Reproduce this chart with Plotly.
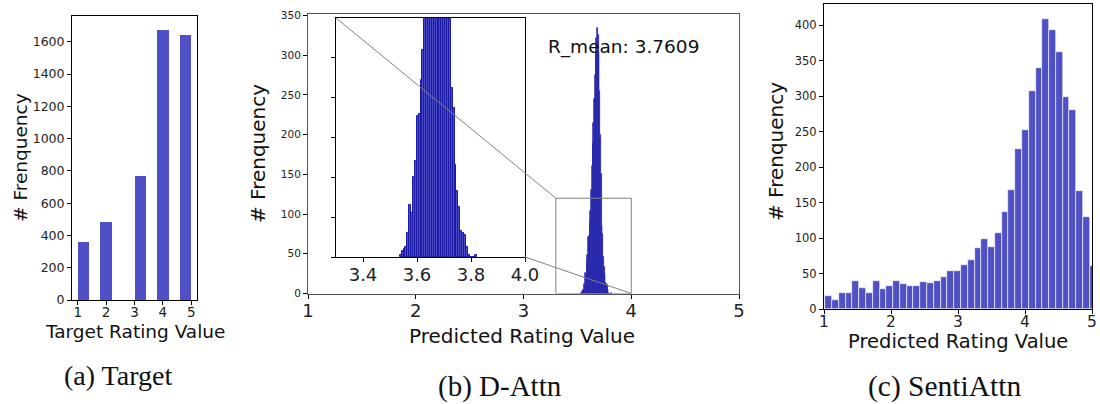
import numpy as np
import plotly.graph_objects as go

# ---------------- data ----------------
# (a) Target: histogram of true ratings (10 bins over [1,5])
target_bin_centers = [1.2, 2.0, 3.2, 4.0, 4.8]
target_counts = [360, 484, 769, 1674, 1643]

# (b) D-Attn: predicted ratings histogram (narrow bins)
dattn_bin_left = 3.536
dattn_bin_width = 0.007
dattn_counts = [1, 3, 4, 5, 12, 26, 22, 40, 48, 71, 72, 89, 104, 130, 160, 190,
                215, 245, 275, 305, 322, 335, 325, 303, 255, 200, 150, 85, 75, 46,
                33, 25, 13, 12, 11, 5, 1, 0, 0, 0, 1]
dattn_mean_label = "R_mean: 3.7609"

# (c) SentiAttn: predicted ratings histogram (40 bins)
senti_bin_left = 1.02
senti_bin_width = 0.1012
senti_counts = [18, 13, 23, 22, 39, 29, 23, 40, 28, 32, 39, 35, 32, 33, 38, 36,
                39, 45, 53, 53, 62, 69, 86, 99, 88, 107, 137, 168, 225, 253, 308,
                340, 409, 394, 363, 299, 281, 167, 130, 60]

captions = ["(a) Target", "(b) D-Attn", "(c) SentiAttn"]

dattn_x = [dattn_bin_left + dattn_bin_width * (i + 0.5) for i in range(len(dattn_counts))]
senti_x = [senti_bin_left + senti_bin_width * (i + 0.5) for i in range(len(senti_counts))]

# ---------------- layout geometry ----------------
W, H = 1100, 404
def xd(a, b):
    return [a / W, b / W]
def yd(top, bottom):
    return [(H - bottom) / H, (H - top) / H]

dom = {
    "a": (xd(72, 197), yd(16, 300)),
    "b": (xd(308, 739), yd(14, 293.5)),
    "i": (xd(336, 525), yd(18, 257)),
    "c": (xd(824, 1092), yd(4, 309)),
}
rng = {
    "a": ([0.8, 5.2], [0, 1760]),
    "b": ([1, 5], [0, 352]),
    "i": ([3.3, 4.0], [0, 120]),
    "c": ([1, 5], [0, 430]),
}

BAR = "#5050c6"
FONT = "DejaVu Sans"

fig = go.Figure()
fig.add_trace(go.Bar(x=target_bin_centers, y=target_counts, width=0.4,
                     marker=dict(color=BAR, line=dict(width=0)),
                     xaxis="x", yaxis="y", showlegend=False))
fig.add_trace(go.Bar(x=dattn_x, y=dattn_counts, width=dattn_bin_width,
                     marker=dict(color="#4a4ac6", line=dict(color="#1c1ca6", width=0.7)),
                     xaxis="x2", yaxis="y2", showlegend=False))
fig.add_trace(go.Bar(x=dattn_x, y=dattn_counts, width=dattn_bin_width,
                     marker=dict(color="#4a4ac6", line=dict(color="#1c1ca6", width=1)),
                     xaxis="x3", yaxis="y3", showlegend=False))
fig.add_trace(go.Bar(x=senti_x, y=senti_counts, width=senti_bin_width,
                     marker=dict(color=BAR, line=dict(color="white", width=0.6)),
                     xaxis="x4", yaxis="y4", showlegend=False))

def axis(domain, r, anchor, tickvals, fsize, linecolor="black", showlabels=True,
         fmt=None, standoff=0):
    d = dict(domain=domain, range=r, anchor=anchor, showgrid=False, zeroline=False,
             showline=True, mirror=True, linecolor=linecolor, linewidth=1,
             ticks="outside", ticklen=4, tickcolor="black", tickwidth=1,
             tickvals=tickvals, showticklabels=showlabels, automargin=False,
             ticklabelstandoff=standoff,
             tickfont=dict(family=FONT, size=fsize, color="#222"), fixedrange=True)
    if fmt:
        d["tickformat"] = fmt
    return d

fig.update_layout(
    template="none",
    width=W, height=H, margin=dict(l=0, r=0, t=0, b=0, pad=0, autoexpand=False),
    paper_bgcolor="white", plot_bgcolor="white", bargap=0,
    xaxis=axis(dom["a"][0], rng["a"][0], "y", [1, 2, 3, 4, 5], 13.5, standoff=-4),
    yaxis=axis(dom["a"][1], rng["a"][1], "x", list(range(0, 1601, 200)), 12.5),
    xaxis2=axis(dom["b"][0], rng["b"][0], "y2", [1, 2, 3, 4, 5], 18, linecolor="#555", standoff=-3),
    yaxis2=axis(dom["b"][1], rng["b"][1], "x2", list(range(0, 351, 50)), 10.5, linecolor="#555"),
    xaxis3=axis(dom["i"][0], rng["i"][0], "y3", [3.4, 3.6, 3.8, 4.0], 18, fmt=".1f", standoff=-3),
    yaxis3=axis(dom["i"][1], rng["i"][1], "x3", list(range(0, 101, 20)), 10, showlabels=False),
    xaxis4=axis(dom["c"][0], rng["c"][0], "y4", [1, 2, 3, 4, 5], 15.5, standoff=-6),
    yaxis4=axis(dom["c"][1], rng["c"][1], "x4", list(range(0, 401, 50)), 11.5),
)

# ----- zoom-box and connector lines for inset -----
def to_paper(key, xv, yv):
    (xdom, ydom), (xr, yr) = dom[key], rng[key]
    px = xdom[0] + (xv - xr[0]) / (xr[1] - xr[0]) * (xdom[1] - xdom[0])
    py = ydom[0] + (yv - yr[0]) / (yr[1] - yr[0]) * (ydom[1] - ydom[0])
    return px, py

ix0, ix1 = rng["i"][0]
iy0, iy1 = rng["i"][1]
GRAY = "#808080"
fig.add_shape(type="rect", xref="x2", yref="y2", x0=ix0, x1=ix1, y0=iy0, y1=iy1,
              line=dict(color=GRAY, width=1), layer="above")
for (xv, yv) in [(ix0, iy1), (ix1, iy0)]:
    p0 = to_paper("i", xv, yv)
    p1 = to_paper("b", xv, yv)
    fig.add_shape(type="line", xref="paper", yref="paper", x0=p0[0], y0=p0[1],
                  x1=p1[0], y1=p1[1], line=dict(color=GRAY, width=1), layer="above")

# ----- text -----
def ann(text, x, y, size, angle=0, family=FONT, ref=("paper", "paper")):
    fig.add_annotation(text=text, x=x, y=y, xref=ref[0], yref=ref[1], showarrow=False,
                       textangle=angle, xanchor="center", yanchor="middle",
                       borderpad=0,
                       font=dict(family=family, size=size, color="#111"))

ann("# Frenquency", 20 / W, 1 - 158 / H, 18.5, -90)
ann("Target Rating Value", 135 / W, 1 - 331 / H, 18.5)
ann("# Frenquency", 258 / W, 1 - 154 / H, 20, -90)
ann("Predicted Rating Value", 522 / W, 1 - 336 / H, 20)
ann("# Frenquency", 776 / W, 1 - 152 / H, 20, -90)
ann("Predicted Rating Value", 958 / W, 1 - 341 / H, 19.5)
ann(dattn_mean_label, 3.93, 310, 18.5, ref=("x2", "y2"))

ann(captions[0], 118 / W, 1 - 375 / H, 28, family="Liberation Serif")
ann(captions[1], 500 / W, 1 - 386 / H, 29, family="Liberation Serif")
ann(captions[2], 944 / W, 1 - 386 / H, 29.5, family="Liberation Serif")

css = ("var s='margin:0;padding:0;overflow:hidden;width:1100px;height:404px;';"
       "document.documentElement.style.cssText=s;document.body.style.cssText=s;")
fig.write_html("out.html", config={"displayModeBar": False}, post_script=css)
